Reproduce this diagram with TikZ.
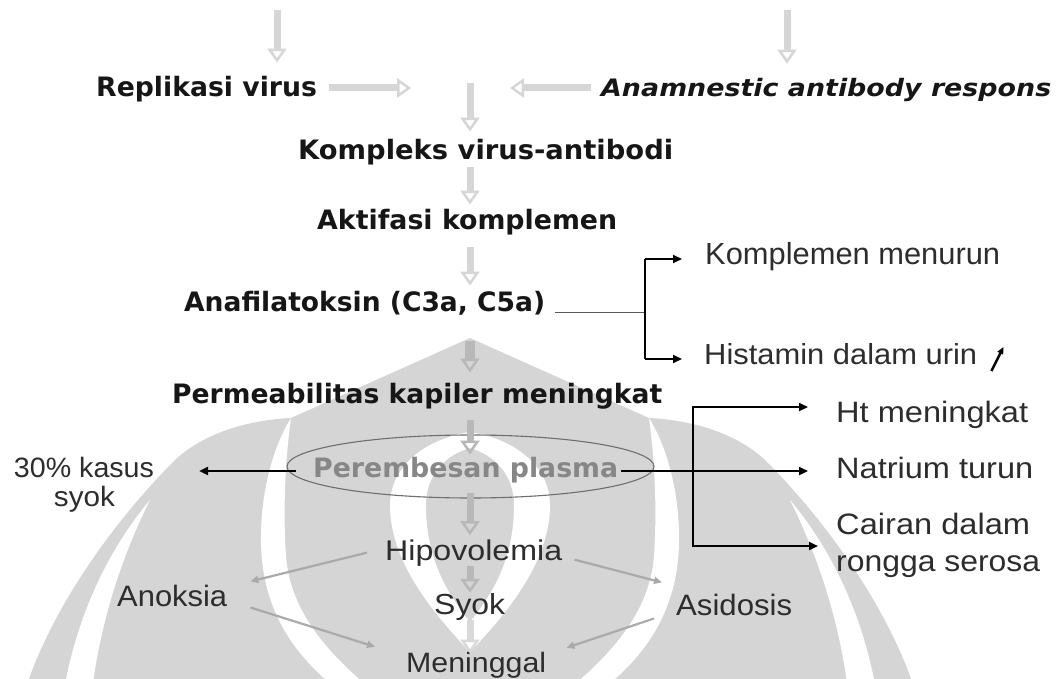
\documentclass[tikz,border=0pt]{standalone}
\usepackage{fontspec}
\setmainfont{DejaVu Sans}
\newfontfamily\lsans{Liberation Sans}
\usepackage{graphicx}
\usetikzlibrary{arrows.meta,shapes.geometric}
\definecolor{wm}{RGB}{213,213,213}
\definecolor{lg}{RGB}{214,214,214}
\definecolor{mg}{RGB}{184,184,184}
\definecolor{cg}{RGB}{170,170,170}
\definecolor{tx}{RGB}{22,22,22}
\definecolor{rtx}{RGB}{45,45,45}
\definecolor{pg}{RGB}{135,135,135}
\definecolor{ellc}{RGB}{110,110,110}
\newcommand\fw[2]{\resizebox{#1}{\height}{#2}}
\newcommand\wmhalf{%
  \fill[white] (150,500) .. controls (112,545) and (78,610) .. (64,690) -- (92,690) .. controls (102,612) and (126,548) .. (150,500) -- cycle;
  \fill[white] (291,418) .. controls (265,460) and (258,520) .. (262,560) .. controls (268,620) and (300,660) .. (338,690) -- (372,690) .. controls (326,652) and (290,610) .. (286,556) .. controls (283,510) and (285,462) .. (291,418) -- cycle;
  \fill[white] (470,432) .. controls (420,440) and (390,470) .. (390,505) .. controls (390,560) and (430,610) .. (470,652) -- (470,622) .. controls (440,585) and (426,550) .. (426,505) .. controls (426,475) and (445,455) .. (470,448) -- cycle;
}
\tikzset{
  bt/.style={font=\fontsize{26.7}{30}\selectfont\bfseries, text=tx, inner sep=0pt, anchor=base west},
  rt/.style={font=\lsans\fontsize{29.5}{37}\selectfont, text=rtx, inner sep=0pt, anchor=base west},
  garrow/.style={draw=lg, line width=7pt, -{Triangle[open,length=14pt,width=19pt,line width=2.5pt]}},
  marrow/.style={garrow, draw=mg},
  barrow/.style={draw=black, line width=2.6pt, -{Triangle[length=9pt,width=8pt]}},
  carrow/.style={draw=cg, line width=2.2pt, -{Triangle[length=8pt,width=7pt]}},
}
\begin{document}
\begin{tikzpicture}[x=1pt,y=-1pt]
\useasboundingbox (0,0) rectangle (1061,679);
\fill[white] (0,0) rectangle (1061,679);
% watermark
\begin{scope}
\clip (0,0) rectangle (1061,679);
\fill[wm] (470,338) -- (291,418) .. controls (250,420) and (205,432) .. (175,460) .. controls (120,515) and (55,600) .. (25,690) -- (915,690) .. controls (885,600) and (820,515) .. (765,460) .. controls (735,432) and (690,420) .. (649,418) -- cycle;
\wmhalf
\begin{scope}[xshift=940pt,xscale=-1]\wmhalf\end{scope}
\end{scope}

% text nodes
\node[bt] (rep) at (96,97) {Replikasi virus};
\node[bt, font=\fontsize{24}{28}\selectfont\bfseries\itshape] (anam) at (601,97) {\fw{450pt}{Anamnestic antibody respons}};
\node[bt] (komp) at (298,160) {\fw{375pt}{Kompleks virus-antibodi}};
\node[bt] (akt) at (317,230) {\fw{300pt}{Aktifasi komplemen}};
\node[bt] (ana) at (184,312) {\fw{361pt}{Anafilatoksin (C3a, C5a)}};
\node[bt] (perm) at (172,403) {\fw{490pt}{Permeabilitas kapiler meningkat}};
\node[draw=ellc, line width=1.1pt, ellipse, minimum width=367pt, minimum height=63pt, inner sep=0pt] (ell) at (470.5,466.5) {};
\node[bt, text=pg] (pere) at (313,477) {\fw{305pt}{Perembesan plasma}};

\node[rt, font=\lsans\fontsize{30.5}{34}\selectfont] (kmn) at (705,265) {\fw{295pt}{Komplemen menurun}};
\node[rt, font=\lsans\fontsize{29}{34}\selectfont] (his) at (704,364) {\fw{273pt}{Histamin dalam urin}};
\node[rt] (ht) at (836,422) {\fw{192pt}{Ht meningkat}};
\node[rt] (nat) at (836,478) {\fw{197pt}{Natrium turun}};
\node[rt] (cai) at (836,534) {\fw{194pt}{Cairan dalam}};
\node[rt] (cai2) at (836,571) {\fw{204pt}{rongga serosa}};
\node[rt, font=\lsans\fontsize{28}{29}\selectfont, anchor=base] (kas) at (84,477) {\fw{140pt}{30\% kasus}};
\node[rt, font=\lsans\fontsize{28}{29}\selectfont, anchor=base] (kas2) at (84.5,506) {\fw{61pt}{syok}};
\node[rt, font=\lsans\fontsize{28.5}{34}\selectfont] (hip) at (385,560) {\fw{177pt}{Hipovolemia}};
\node[rt] (ano) at (117,606) {\fw{110pt}{Anoksia}};
\node[rt, font=\lsans\fontsize{29}{34}\selectfont] (syo) at (434,614) {\fw{71pt}{Syok}};
\node[rt] (asi) at (676,615) {\fw{116pt}{Asidosis}};
\node[rt, font=\lsans\fontsize{28}{34}\selectfont] (men) at (406,672) {\fw{140pt}{Meninggal}};

% helper coordinates
\coordinate (ax) at (470,0);
\coordinate (r88) at (0,88);
\coordinate (tlx) at (277,10);
\coordinate (trx) at (787,10);
\coordinate (v0) at (470,83);

% light gray block arrows
\draw[garrow] (tlx) -- ([yshift=14pt]rep.north -| tlx);
\draw[garrow] (trx) -- ([yshift=15pt]anam.north -| trx);
\draw[garrow] ([xshift=12pt]rep.east |- r88) -- ([xshift=94pt]rep.east |- r88);
\draw[garrow] ([xshift=-10pt]anam.west |- r88) -- ([xshift=-91pt]anam.west |- r88);
\draw[garrow] (v0) -- ([yshift=8pt]komp.north -| ax);
\draw[garrow] ([yshift=-1pt]komp.south -| ax) -- ([yshift=5pt]akt.north -| ax);
\draw[garrow] ([yshift=-11pt]akt.south -| ax) -- ([yshift=6pt]ana.north -| ax);
\draw[marrow, line width=10pt] ([yshift=-25pt]ana.south -| ax) -- ([yshift=10pt]perm.north -| ax);
\draw[marrow] ([yshift=-11pt]perm.south -| ax) -- ([yshift=2pt]pere.north -| ax);
\draw[marrow] ([yshift=6pt]ell.south -| ax) -- ([yshift=4pt]hip.north -| ax);
\draw[marrow] (hip.south -| ax) -- (syo.north -| ax);
\draw[garrow, draw=white!85!black] (syo.south -| ax) -- ([yshift=-2pt]men.north -| ax);

% bracket 1
\coordinate (j1) at (645,313);
\coordinate (b1t) at (645,259);
\coordinate (b1b) at (645,359);
\draw[draw=black!65, line width=1pt] ([xshift=10pt]ana.east |- j1) -- (j1);
\draw[line width=1.3pt] (b1t) -- (b1b);
\draw[barrow, line width=2.2pt] (b1t) -- ([xshift=-23pt]kmn.west |- b1t);
\draw[barrow, line width=2.2pt] (b1b) -- ([xshift=-22pt]his.west |- b1b);
\draw[line width=2.4pt, -{Triangle[length=7pt,width=6pt]}] ([xshift=14pt,yshift=-7pt]his.base east) -- ([xshift=26pt,yshift=17pt]his.base east);

% bracket 2
\coordinate (b2t) at (693,407);
\coordinate (b2m) at (693,471);
\coordinate (b2b) at (693,546);
\draw[line width=2.6pt, line cap=rect] (b2t) -- (b2b);
\draw[barrow] (b2t) -- ([xshift=-28pt]ht.west |- b2t);
\draw[barrow] ([xshift=3pt]pere.east |- b2m) -- ([xshift=-28pt]nat.west |- b2m);
\draw[barrow] (b2b) -- ([xshift=-18pt]cai.west |- b2b);
\draw[barrow] ([xshift=10pt]ell.west |- b2m) -- ([xshift=45pt]kas.east |- b2m);

% gray lower connectors
\draw[carrow] ([xshift=-18pt]hip.west) -- ([xshift=23pt,yshift=3pt]ano.north east);
\draw[carrow] ([xshift=12pt,yshift=-7pt]hip.east) -- ([xshift=-14pt,yshift=11pt]asi.north west);
\draw[carrow] ([xshift=23pt,yshift=-1pt]ano.south east) -- ([xshift=-31pt,yshift=18pt]men.west);
\draw[carrow] ([xshift=-22pt,yshift=-3pt]asi.south west) -- ([xshift=20pt,yshift=17pt]men.east);
\end{tikzpicture}
\end{document}
